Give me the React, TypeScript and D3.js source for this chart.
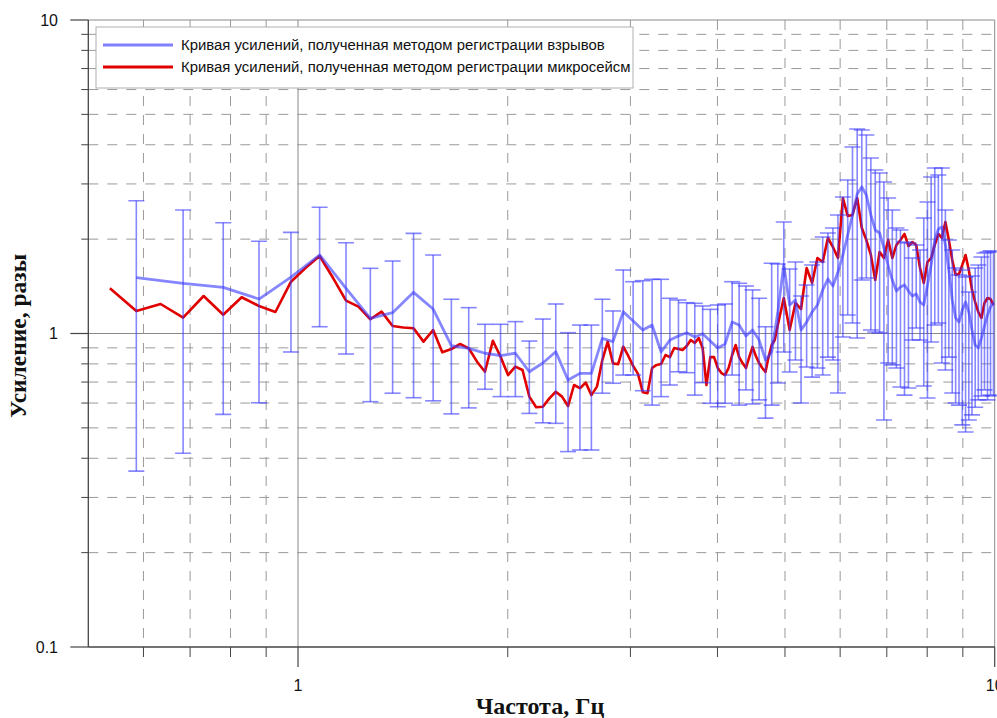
import React from 'react';
import * as d3 from 'd3';

const blueFreq = [0.586,0.684,0.781,0.879,0.977,1.074,1.172,1.270,1.367,1.465,1.563,1.660,1.758,1.855,1.953,2.051,2.148,2.246,2.344,2.441,2.539,2.637,2.734,2.832,2.930,3.027,3.125,3.223,3.320,3.418,3.516,3.613,3.711,3.809,3.906,4.004,4.102,4.199,4.297,4.395,4.492,4.590,4.688,4.785,4.883,4.980,5.078,5.176,5.273,5.371,5.469,5.566,5.664,5.762,5.859,5.957,6.055,6.152,6.250,6.348,6.445,6.543,6.641,6.738,6.836,6.934,7.031,7.129,7.227,7.324,7.422,7.520,7.617,7.715,7.813,7.910,8.008,8.105,8.203,8.301,8.398,8.496,8.594,8.691,8.789,8.887,8.984,9.082,9.180,9.277,9.375,9.473,9.570,9.668,9.766,9.863,9.961];
const blueAmp = [1.507,1.446,1.404,1.288,1.514,1.780,1.394,1.118,1.165,1.353,1.197,0.914,0.897,0.865,0.850,0.865,0.755,0.805,0.875,0.711,0.746,0.746,0.965,0.942,1.174,1.096,1.026,1.064,0.873,0.953,0.982,1.006,0.975,0.998,0.946,0.899,0.926,1.088,1.064,0.982,1.026,0.953,0.823,0.873,1.171,1.654,1.233,1.279,1.026,1.088,1.171,1.233,1.377,1.492,1.417,1.571,1.780,2.062,2.388,2.786,2.934,2.765,2.388,2.139,2.092,1.874,1.642,1.481,1.366,1.407,1.428,1.366,1.317,1.337,1.260,1.233,1.428,1.654,1.987,2.154,2.186,1.916,1.594,1.279,1.121,1.088,1.188,1.260,1.171,1.026,0.919,0.899,0.967,1.057,1.146,1.215,1.251];
const blueUpper = [2.652,2.477,2.256,1.968,2.102,2.527,1.948,1.614,1.703,2.087,1.780,1.286,1.209,1.070,1.070,1.091,0.946,1.112,1.242,1.006,1.064,1.064,1.286,1.180,1.594,1.463,1.474,1.489,1.489,1.295,1.279,1.254,1.248,1.224,1.194,1.233,1.242,1.463,1.446,1.417,1.377,1.295,1.051,1.675,1.666,2.268,1.606,1.691,1.317,1.428,1.654,1.691,2.031,2.092,2.170,2.388,2.725,3.088,3.934,4.491,4.458,4.298,3.629,3.322,3.251,3.043,2.705,2.477,2.170,2.139,1.958,1.944,1.741,1.916,1.847,2.336,2.627,3.157,3.372,3.203,3.372,2.477,1.987,1.847,1.618,1.537,1.594,1.514,1.356,1.526,1.618,1.654,1.754,1.806,1.820,1.835,1.820];
const blueLower = [0.364,0.415,0.552,0.601,0.873,1.051,0.860,0.606,0.645,0.624,0.610,0.554,0.579,0.664,0.629,0.629,0.556,0.519,0.517,0.420,0.425,0.425,0.645,0.694,0.737,0.737,0.657,0.591,0.629,0.685,0.755,0.750,0.636,0.697,0.599,0.584,0.599,0.737,0.591,0.661,0.596,0.614,0.537,0.591,0.695,0.873,0.754,0.823,0.600,0.782,0.726,0.776,0.737,0.841,0.823,0.646,0.975,1.146,1.080,0.967,1.481,1.503,1.026,1.011,1.004,0.530,0.805,0.794,0.776,0.675,0.636,0.670,0.953,1.041,0.953,0.680,0.623,0.939,1.064,1.080,0.805,0.765,0.841,0.646,0.600,0.591,0.511,0.485,0.530,0.550,0.582,0.614,0.632,0.661,0.614,0.636,0.632];

const redFreq = [0.537,0.586,0.635,0.684,0.732,0.781,0.830,0.879,0.928,0.977,1.025,1.074,1.123,1.172,1.221,1.270,1.318,1.367,1.416,1.465,1.514,1.563,1.611,1.660,1.709,1.758,1.807,1.855,1.904,1.953,2.002,2.051,2.100,2.148,2.197,2.246,2.295,2.344,2.393,2.441,2.490,2.539,2.588,2.637,2.686,2.734,2.783,2.832,2.881,2.930,2.979,3.027,3.076,3.125,3.174,3.223,3.271,3.320,3.369,3.418,3.467,3.516,3.564,3.613,3.662,3.711,3.760,3.809,3.857,3.906,3.955,4.004,4.053,4.102,4.150,4.199,4.248,4.297,4.346,4.395,4.443,4.492,4.541,4.590,4.639,4.688,4.736,4.785,4.834,4.883,4.980,5.078,5.176,5.273,5.371,5.469,5.566,5.664,5.762,5.859,5.957,6.055,6.152,6.250,6.348,6.445,6.543,6.641,6.738,6.836,6.934,7.031,7.129,7.227,7.324,7.422,7.520,7.617,7.715,7.813,7.910,8.008,8.105,8.203,8.301,8.398,8.496,8.594,8.691,8.789,8.887,8.984,9.082,9.180,9.277,9.375,9.473,9.570,9.668,9.766,9.863,9.961];
const redAmp = [1.394,1.180,1.242,1.123,1.317,1.148,1.305,1.224,1.171,1.463,1.618,1.767,1.503,1.273,1.218,1.110,1.174,1.057,1.045,1.039,0.942,1.026,0.871,0.892,0.926,0.897,0.813,0.755,0.948,0.843,0.737,0.784,0.765,0.629,0.582,0.584,0.621,0.652,0.629,0.587,0.685,0.669,0.697,0.636,0.677,0.823,0.942,0.803,0.798,0.908,0.848,0.788,0.743,0.650,0.645,0.776,0.794,0.799,0.854,0.841,0.899,0.892,0.886,0.912,0.953,0.933,0.967,0.899,0.685,0.841,0.841,0.776,0.748,0.737,0.776,0.854,0.919,0.841,0.805,0.776,0.841,0.906,0.848,0.805,0.776,0.754,0.841,0.919,0.953,1.064,1.298,1.026,1.251,1.197,1.618,1.449,1.741,1.691,2.017,1.887,1.741,2.705,2.371,2.388,2.705,2.170,1.987,1.780,1.481,1.820,1.741,1.987,1.741,1.916,1.987,2.077,1.901,1.958,1.916,1.618,1.449,1.691,1.741,1.916,2.077,2.017,2.268,1.987,1.716,1.537,1.548,1.654,1.780,1.594,1.377,1.260,1.171,1.121,1.251,1.298,1.288,1.233];

const xMinor = [0.6,0.7,0.8,0.9,2,3,4,5,6,7,8,9];
const xMajor = [1,10];
const xTickLabels = ['1','10'];
const yMinor = [0.2,0.3,0.4,0.5,0.6,0.7,0.8,0.9,2,3,4,5,6,7,8,9];
const yMajor = [0.1,1,10];
const yTickLabels = ['0.1','1','10'];
const legendLabels = [
  'Кривая усилений, полученная методом регистрации взрывов',
  'Кривая усилений, полученная методом регистрации микросейсм',
];
const xTitle = 'Частота, Гц';
const yTitle = 'Усиление, разы';

const W = 997, H = 718;
const L = 88.3, R = 994.7, T = 20, B = 647;
const BLUE = 'rgba(60,60,255,0.62)';
const RED = '#e00000';

export default function App() {
  const x = d3.scaleLog().domain([0.5, 10]).range([L, R]);
  const y = d3.scaleLog().domain([0.1, 10]).range([B, T]);
  const blueLine = d3.line<number>().x((_, i) => x(blueFreq[i])).y((v) => y(v));
  const redLine = d3.line<number>().x((_, i) => x(redFreq[i])).y((v) => y(v));
  const cap = 8;
  const sans = 'Arial, "Liberation Sans", sans-serif';
  const serif = '"Times New Roman", "Liberation Serif", serif';
  return (
    <svg width={W} height={H} style={{ position: 'absolute', left: 0, top: 0, background: '#fff' }}>
      <defs>
        <clipPath id="plot"><rect x={L} y={T - 2} width={R - L + 2} height={B - T + 2} /></clipPath>
      </defs>
      <rect x={0} y={0} width={W} height={H} fill="#fff" />
      {xMinor.map((v) => (
        <line key={'xg' + v} x1={x(v)} x2={x(v)} y1={T} y2={B} stroke="#9a9a9a" strokeWidth={1} strokeDasharray="10,9" />
      ))}
      {yMinor.map((v) => (
        <line key={'yg' + v} x1={L} x2={R} y1={y(v)} y2={y(v)} stroke="#9a9a9a" strokeWidth={1} strokeDasharray="10,9" />
      ))}
      {xMajor.map((v) => (
        <line key={'xM' + v} x1={x(v)} x2={x(v)} y1={T} y2={B} stroke="#8a8a8a" strokeWidth={1} />
      ))}
      {yMajor.slice(1).map((v) => (
        <line key={'yM' + v} x1={L} x2={R} y1={y(v)} y2={y(v)} stroke="#8a8a8a" strokeWidth={1} />
      ))}
      <g clipPath="url(#plot)">
        <path d={redLine(redAmp) || ''} fill="none" stroke={RED} strokeWidth={2.6} strokeLinejoin="round" />
        <path d={blueLine(blueAmp) || ''} fill="none" stroke={BLUE} strokeWidth={2.8} strokeLinejoin="round" />
        {blueFreq.map((f, i) => {
          const cx = x(f);
          return (
            <g key={'eb' + i} stroke={BLUE} strokeWidth={1.6}>
              <line x1={cx} x2={cx} y1={y(blueUpper[i])} y2={y(blueLower[i])} />
              <line x1={cx - cap} x2={cx + cap} y1={y(blueUpper[i])} y2={y(blueUpper[i])} />
              <line x1={cx - cap} x2={cx + cap} y1={y(blueLower[i])} y2={y(blueLower[i])} />
            </g>
          );
        })}
      </g>
      <line x1={L} x2={L} y1={T} y2={B} stroke="#444" strokeWidth={1.3} />
      <line x1={L} x2={R} y1={B} y2={B} stroke="#444" strokeWidth={1.3} />
      {yMinor.map((v) => (
        <line key={'yt' + v} x1={L - 7} x2={L} y1={y(v)} y2={y(v)} stroke="#444" strokeWidth={1} />
      ))}
      {yMajor.map((v, i) => (
        <g key={'yT' + v}>
          <line x1={L - 18} x2={L} y1={y(v)} y2={y(v)} stroke="#444" strokeWidth={1.2} />
          <text x={58} y={y(v)} dy="0.35em" textAnchor="end" fontFamily={sans} fontSize={16} fill="#111">{yTickLabels[i]}</text>
        </g>
      ))}
      {xMinor.map((v) => (
        <line key={'xt' + v} x1={x(v)} x2={x(v)} y1={B} y2={B + 10} stroke="#444" strokeWidth={1} />
      ))}
      {xMajor.map((v, i) => (
        <g key={'xT' + v}>
          <line x1={x(v)} x2={x(v)} y1={B} y2={B + 20} stroke="#444" strokeWidth={1.2} />
          <text x={x(v)} y={691} textAnchor="middle" fontFamily={sans} fontSize={16} fill="#111">{xTickLabels[i]}</text>
        </g>
      ))}
      <text x={540} y={714} textAnchor="middle" fontFamily={serif} fontWeight="bold" fontSize={24} fill="#111">{xTitle}</text>
      <text transform={`translate(26,336) rotate(-90)`} textAnchor="middle" fontFamily={serif} fontWeight="bold" fontSize={23.5} fill="#111">{yTitle}</text>
      <rect x={96} y={27} width={537} height={61} fill="#fff" stroke="#b0b0b0" strokeWidth={1} />
      <line x1={103} x2={173} y1={45} y2={45} stroke="#8080ff" strokeWidth={2.8} />
      <line x1={103} x2={173} y1={67} y2={67} stroke={RED} strokeWidth={2.8} />
      <text x={181} y={50} fontFamily={sans} fontSize={14.9} fill="#111">{legendLabels[0]}</text>
      <text x={181} y={72} fontFamily={sans} fontSize={14.9} fill="#111">{legendLabels[1]}</text>
    </svg>
  );
}
